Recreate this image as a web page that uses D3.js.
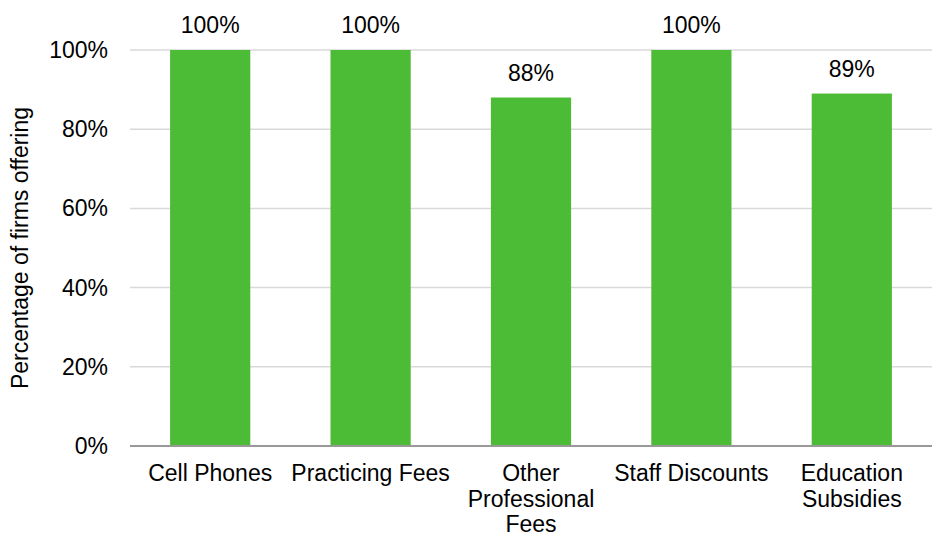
<!DOCTYPE html>
<html>
<head>
<meta charset="utf-8">
<style>
  body { margin: 0; background: #fff; }
  text { font-family: "Liberation Sans", Arial, sans-serif; fill: #000; }
</style>
</head>
<body>
<script src="https://d3js.org/d3.v7.min.js"></script>
<script>
  var categories = [["Cell Phones"], ["Practicing Fees"], ["Other", "Professional", "Fees"], ["Staff Discounts"], ["Education", "Subsidies"]];
  var values = [100, 100, 88, 100, 89];
  var yTicks = [0, 20, 40, 60, 80, 100];

  var margin = {top: 50, right: 7, bottom: 87, left: 130},
      width = 939 - margin.left - margin.right,
      height = 533 - margin.top - margin.bottom;

  var svg = d3.select("body").append("svg")
      .attr("width", 939)
      .attr("height", 533)
    .append("g")
      .attr("transform", "translate(" + margin.left + "," + margin.top + ")");

  var names = categories.map(function(d) { return d.join(" "); });

  var x = d3.scaleBand()
      .domain(names)
      .range([0, width])
      .paddingInner(0.5)
      .paddingOuter(0.25);

  var y = d3.scaleLinear()
      .domain([0, 100])
      .range([height, 0]);

  // gridlines
  svg.selectAll(".grid")
      .data(yTicks.slice(1))
      .enter().append("line")
      .attr("x1", 0).attr("x2", width)
      .attr("y1", function(d) { return y(d); })
      .attr("y2", function(d) { return y(d); })
      .attr("stroke", "#d9d9d9")
      .attr("stroke-width", 1.5);

  // tick labels
  svg.selectAll(".ytick")
      .data(yTicks)
      .enter().append("text")
      .attr("x", -22)
      .attr("y", function(d) { return y(d); })
      .attr("dy", "0.35em")
      .attr("text-anchor", "end")
      .style("font-size", "23px")
      .text(function(d) { return d + "%"; });

  // bars
  svg.selectAll(".bar")
      .data(values)
      .enter().append("rect")
      .attr("x", function(d, i) { return x(names[i]); })
      .attr("y", function(d) { return y(d); })
      .attr("width", x.bandwidth())
      .attr("height", function(d) { return height - y(d); })
      .attr("fill", "#4cbb35");

  // value labels
  svg.selectAll(".val")
      .data(values)
      .enter().append("text")
      .attr("x", function(d, i) { return x(names[i]) + x.bandwidth() / 2; })
      .attr("y", function(d) { return y(d) - 17; })
      .attr("text-anchor", "middle")
      .style("font-size", "23px")
      .text(function(d) { return d + "%"; });

  // baseline
  svg.append("line")
      .attr("x1", 0).attr("x2", width)
      .attr("y1", height).attr("y2", height)
      .attr("stroke", "#999")
      .attr("stroke-width", 2);

  // category labels
  var cat = svg.selectAll(".cat")
      .data(categories)
      .enter().append("text")
      .attr("text-anchor", "middle")
      .style("font-size", "23px")
      .attr("transform", function(d, i) {
        return "translate(" + (x(names[i]) + x.bandwidth() / 2) + "," + (height + 35) + ")";
      });
  cat.selectAll("tspan")
      .data(function(d) { return d; })
      .enter().append("tspan")
      .attr("x", 0)
      .attr("dy", function(d, i) { return i === 0 ? 0 : 25.5; })
      .text(function(d) { return d; });

  // y axis title
  svg.append("text")
      .attr("transform", "rotate(-90)")
      .attr("x", -height / 2)
      .attr("y", -102)
      .attr("text-anchor", "middle")
      .style("font-size", "23px")
      .text("Percentage of firms offering");
</script>
</body>
</html>
